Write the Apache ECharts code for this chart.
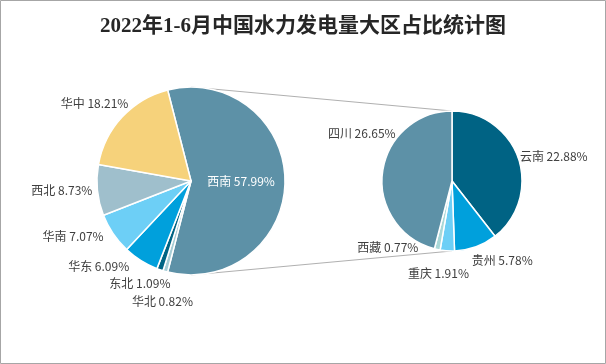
<!DOCTYPE html>
<html>
<head>
<meta charset="utf-8">
<script src="https://cdn.jsdelivr.net/npm/echarts@6/dist/echarts.min.js"></script>
<style>
html,body{margin:0;padding:0;background:#fff;}
#main{width:606px;height:364px;}
</style>
</head>
<body>
<div id="main"></div>
<script>
// ---- data ----
const titleText = '2022年1-6月中国水力发电量大区占比统计图';
const regionNames = ['西南', '华北', '东北', '华东', '华南', '西北', '华中'];
const regionValues = [57.99, 0.82, 1.09, 6.09, 7.07, 8.73, 18.21];
const subNames = ['云南', '贵州', '重庆', '西藏', '四川'];
const subValues = [22.88, 5.78, 1.91, 0.77, 26.65];

// ---- styles / layout ----
const regionColors = ['#5D91A7', '#A6CDD6', '#006484', '#00A0DC', '#6DCFF6', '#9FBFCC', '#F6D27B'];
const subColors = ['#006384', '#00A0DC', '#6DCFF6', '#A9D8D8', '#5D91A7'];
const C1 = [191, 181], R1 = 94;
const C2 = [452, 181], R2 = 70;
const labelFont = "'Noto Sans CJK SC', sans-serif";
// small label nudges (best-fit placement like the original)
const labelNudge = [
  {'华中': [15, -10], '华东': [8, 2], '东北': [35, 5], '华北': [34, 9]},
  {'云南': [-8, 0], '四川': [18, -38], '贵州': [-11, 9], '重庆': [27, 5], '西藏': [8, -7]}
];

const chart = echarts.init(document.getElementById('main'), null, {renderer: 'canvas'});

const splitShare = regionValues[0] / regionValues.reduce((a, b) => a + b, 0);
const startAngle1 = splitShare * 360 / 2;

const mainData = regionNames.map((n, i) => {
  const d = {name: n, value: regionValues[i], itemStyle: {color: regionColors[i]}};
  if (i === 0) d.label = {position: 'inside', color: '#fff'};
  return d;
});
const subData = subNames.map((n, i) => ({name: n, value: subValues[i], itemStyle: {color: subColors[i]}}));

const commonLabel = {
  show: true,
  formatter: p => p.name + ' ' + p.value.toFixed(2) + '%',
  fontSize: 12,
  fontFamily: labelFont,
  color: '#404040'
};

function nudge(series) {
  return function (params) {
    const names = series === 0 ? regionNames : subNames;
    const off = labelNudge[series][names[params.dataIndex]];
    return off ? {dx: off[0], dy: off[1]} : {};
  };
}

chart.setOption({
  backgroundColor: '#fff',
  animation: false,
  title: {
    text: titleText,
    left: 'center',
    top: 11,
    textStyle: {fontSize: 21, fontWeight: 'bold', color: '#262626', fontFamily: "'Liberation Serif', 'Noto Sans CJK SC', serif"}
  },
  graphic: [
    {type: 'rect', z: 0, shape: {x: 0.5, y: 0.5, width: 605, height: 363}, style: {fill: 'none', stroke: '#a6a6a6', lineWidth: 1}},
    {type: 'line', z: 0, shape: {x1: C1[0], y1: C1[1] - R1, x2: C2[0], y2: C2[1] - R2}, style: {stroke: '#b0b0b0', lineWidth: 1}},
    {type: 'line', z: 0, shape: {x1: C1[0], y1: C1[1] + R1, x2: C2[0], y2: C2[1] + R2}, style: {stroke: '#b0b0b0', lineWidth: 1}}
  ],
  series: [
    {
      type: 'pie',
      center: C1,
      radius: [0, R1],
      startAngle: startAngle1,
      clockwise: true,
      avoidLabelOverlap: true,
      itemStyle: {borderColor: '#fff', borderWidth: 1.5},
      label: Object.assign({position: 'outside'}, commonLabel),
      labelLine: {show: false, length: 5, length2: 0},
      labelLayout: nudge(0),
      data: mainData
    },
    {
      type: 'pie',
      center: C2,
      radius: [0, R2],
      startAngle: 90,
      clockwise: true,
      itemStyle: {borderColor: '#fff', borderWidth: 1.5},
      label: Object.assign({position: 'outside'}, commonLabel),
      labelLine: {show: false, length: 5, length2: 0},
      labelLayout: nudge(1),
      data: subData
    }
  ]
});
</script>
</body>
</html>
